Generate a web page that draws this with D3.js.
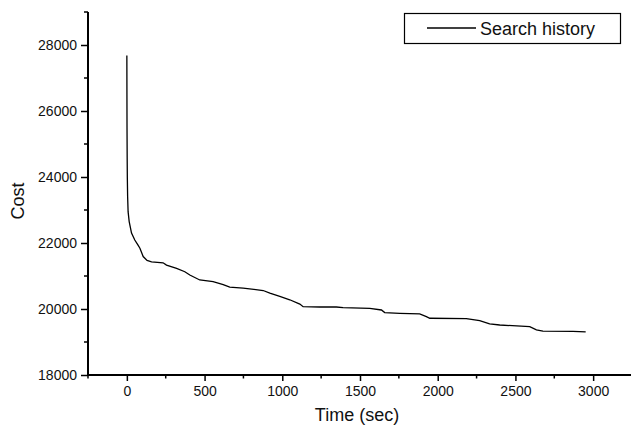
<!DOCTYPE html>
<html><head><meta charset="utf-8">
<script src="https://cdn.jsdelivr.net/npm/d3@7"></script>
<style>html,body{margin:0;padding:0;background:#fff}svg{display:block}</style>
</head><body>
<script>
const timeSec = [0, 0.5, 1, 2, 3, 5, 8, 15, 30, 51, 70, 84, 105, 130, 159, 233, 255, 320, 373, 405, 469, 555, 620, 662, 748, 877, 920, 984, 1048, 1113, 1134, 1241, 1348, 1391, 1563, 1638, 1659, 1756, 1884, 1927, 1949, 2184, 2270, 2334, 2399, 2592, 2635, 2677, 2870, 2952];
const costVal = [27680, 26500, 25500, 24600, 24000, 23400, 22950, 22650, 22300, 22090, 21950, 21840, 21590, 21470, 21430, 21400, 21330, 21230, 21130, 21030, 20880, 20830, 20740, 20660, 20630, 20560, 20480, 20380, 20280, 20150, 20070, 20060, 20060, 20040, 20020, 19970, 19890, 19870, 19850, 19770, 19720, 19710, 19650, 19550, 19515, 19465, 19370, 19330, 19325, 19305];
const xTicks = [0, 500, 1000, 1500, 2000, 2500, 3000];
const yTicks = [18000, 20000, 22000, 24000, 26000, 28000];
const seriesName = "Search history";

const W = 631, H = 430;
const svg = d3.select("body").append("svg").attr("width", W).attr("height", H);
const x = d3.scaleLinear().domain([-250, 3250]).range([88, 632]);
const y = d3.scaleLinear().domain([18000, 29000]).range([375, 12]);
const font = "Liberation Sans, Arial, sans-serif";

// minor ticks
const xMinor = d3.range(-250, 3251, 250).filter(v => v % 500 !== 0);
const yMinor = d3.range(19000, 29001, 2000);

const gx = svg.append("g").attr("transform", `translate(0,${y(18000)})`)
  .call(d3.axisBottom(x).tickValues(xTicks).tickSize(6).tickPadding(5).tickFormat(d3.format("d")));
gx.selectAll(".tick text").attr("font-size", 14).attr("font-family", font).attr("fill", "#111");
gx.selectAll("line").attr("stroke", "#000").attr("stroke-width", 1.5);
gx.select(".domain").attr("stroke", "#000").attr("stroke-width", 2).attr("d", `M${x(-250)},0H${W}`);
gx.selectAll(".minor").data(xMinor).enter().append("line")
  .attr("x1", d => x(d)).attr("x2", d => x(d)).attr("y1", 0).attr("y2", 3.5)
  .attr("stroke", "#000").attr("stroke-width", 1.5);

const gy = svg.append("g").attr("transform", `translate(${x(-250)},0)`)
  .call(d3.axisLeft(y).tickValues(yTicks).tickSize(7).tickPadding(4).tickFormat(d3.format("d")));
gy.selectAll(".tick text").attr("font-size", 14).attr("font-family", font).attr("fill", "#111");
gy.selectAll("line").attr("stroke", "#000").attr("stroke-width", 1.5);
gy.select(".domain").attr("stroke", "#000").attr("stroke-width", 2).attr("d", `M0,${y(29000)}V${y(18000)}`);
gy.selectAll(".minor").data(yMinor).enter().append("line")
  .attr("x1", -4).attr("x2", 0).attr("y1", d => y(d)).attr("y2", d => y(d))
  .attr("stroke", "#000").attr("stroke-width", 1.5);

// line
const data = timeSec.map((t, i) => ({t, c: costVal[i]}));
svg.append("path").datum(data)
  .attr("fill", "none").attr("stroke", "#000").attr("stroke-width", 1.3)
  .attr("d", d3.line().x(d => x(d.t)).y(d => y(d.c)));

// axis titles
svg.append("text").attr("x", 357).attr("y", 421).attr("text-anchor", "middle")
  .attr("font-size", 18).attr("font-family", font).attr("fill", "#111").text("Time (sec)");
svg.append("text").attr("transform", "translate(24,201) rotate(-90)").attr("text-anchor", "middle")
  .attr("font-size", 18).attr("font-family", font).attr("fill", "#111").text("Cost");

// legend
const lg = svg.append("g");
lg.append("rect").attr("x", 404.5).attr("y", 13.5).attr("width", 216).attr("height", 30)
  .attr("fill", "#fff").attr("stroke", "#000").attr("stroke-width", 1.2);
lg.append("line").attr("x1", 427).attr("x2", 476).attr("y1", 28).attr("y2", 28)
  .attr("stroke", "#000").attr("stroke-width", 1.3);
lg.append("text").attr("x", 480).attr("y", 35).attr("font-size", 18).attr("font-family", font)
  .attr("fill", "#111").text(seriesName);
</script>
</body></html>
